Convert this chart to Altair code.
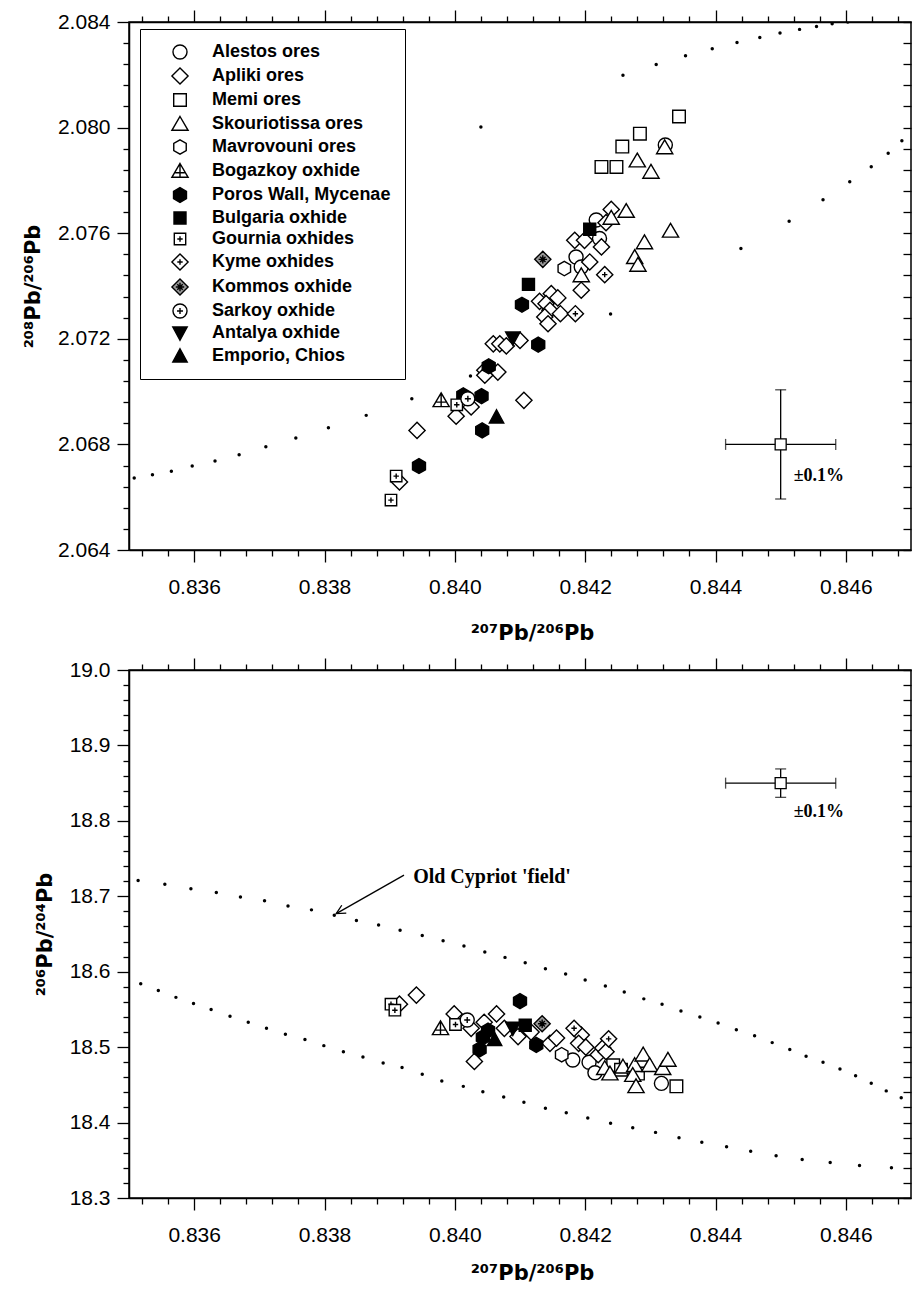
import altair as alt
import pandas as pd

GROUPS = ["Alestos ores", "Apliki ores", "Memi ores", "Skouriotissa ores", "Mavrovouni ores",
          "Bogazkoy oxhide", "Poros Wall, Mycenae", "Bulgaria oxhide", "Gournia oxhides",
          "Kyme oxhides", "Kommos oxhide", "Sarkoy oxhide", "Antalya oxhide", "Emporio, Chios"]

# ---- upper panel: (207Pb/206Pb, 208Pb/206Pb)
ALESTOS_TOP = [(0.84323, 2.07934), (0.84217, 2.07650), (0.84222, 2.07580), (0.84186, 2.07510), (0.84194, 2.07472)]
APLIKI_TOP = [(0.84240, 2.07690), (0.84232, 2.07640), (0.84184, 2.07573), (0.84199, 2.07573), (0.84225, 2.07548),
              (0.84207, 2.07491), (0.84194, 2.07384), (0.84130, 2.07342), (0.84148, 2.07371), (0.84140, 2.07333),
              (0.84158, 2.07355), (0.84146, 2.07308), (0.84162, 2.07295), (0.84138, 2.07283), (0.84143, 2.07257),
              (0.84059, 2.07181), (0.84069, 2.07181), (0.84079, 2.07173), (0.84100, 2.07194), (0.84046, 2.07081),
              (0.84066, 2.07074), (0.84046, 2.07062), (0.84002, 2.06907), (0.84025, 2.06942), (0.84106, 2.06967),
              (0.83942, 2.06853), (0.83915, 2.06658)]
MEMI_TOP = [(0.84344, 2.08042), (0.84284, 2.07977), (0.84257, 2.07928), (0.84225, 2.07851), (0.84248, 2.07851)]
SKOURIOTISSA_TOP = [(0.84322, 2.07925), (0.84280, 2.07875), (0.84301, 2.07832), (0.84263, 2.07684),
                    (0.84240, 2.07658), (0.84331, 2.07609), (0.84291, 2.07565), (0.84276, 2.07509),
                    (0.84281, 2.07480), (0.84194, 2.07440)]
MAVROVOUNI_TOP = [(0.84168, 2.07466)]
BOGAZKOY_TOP = [(0.83979, 2.06967)]
POROS_TOP = [(0.84103, 2.07329), (0.84128, 2.07178), (0.84052, 2.07096), (0.84013, 2.06986), (0.84041, 2.06983),
             (0.84042, 2.06853), (0.83945, 2.06718)]
BULGARIA_TOP = [(0.84207, 2.07615), (0.84113, 2.07406)]
GOURNIA_TOP = [(0.83902, 2.06589), (0.83910, 2.06680), (0.84003, 2.06950)]
KYME_TOP = [(0.84230, 2.07443), (0.84185, 2.07295)]
KOMMOS_TOP = [(0.84135, 2.07501)]
SARKOY_TOP = [(0.84020, 2.06973)]
ANTALYA_TOP = [(0.84089, 2.07203)]
EMPORIO_TOP = [(0.84064, 2.06904)]

# ---- lower panel: (207Pb/206Pb, 206Pb/204Pb)
ALESTOS_BOT = [(0.84181, 18.483), (0.84206, 18.480), (0.84215, 18.466), (0.84317, 18.452)]
APLIKI_BOT = [(0.83915, 18.557), (0.83941, 18.569), (0.83999, 18.544), (0.84025, 18.525), (0.84045, 18.533),
              (0.84064, 18.544), (0.84076, 18.525), (0.84030, 18.481), (0.84097, 18.514), (0.84117, 18.520),
              (0.84146, 18.505), (0.84156, 18.512), (0.84194, 18.516), (0.84190, 18.505), (0.84201, 18.500),
              (0.84220, 18.490), (0.84227, 18.499), (0.84232, 18.494)]
MEMI_BOT = [(0.84243, 18.476), (0.84255, 18.470), (0.84281, 18.465), (0.84340, 18.448)]
SKOURIOTISSA_BOT = [(0.84230, 18.472), (0.84238, 18.465), (0.84258, 18.474), (0.84276, 18.476), (0.84289, 18.490),
                    (0.84299, 18.476), (0.84273, 18.463), (0.84278, 18.448), (0.84319, 18.472), (0.84327, 18.483)]
MAVROVOUNI_BOT = [(0.84164, 18.490)]
BOGAZKOY_BOT = [(0.83978, 18.525)]
POROS_BOT = [(0.84100, 18.561), (0.84125, 18.503), (0.84051, 18.522), (0.84043, 18.513), (0.84038, 18.497)]
BULGARIA_BOT = [(0.84108, 18.529)]
GOURNIA_BOT = [(0.83902, 18.557), (0.83908, 18.549), (0.84001, 18.530)]
KYME_BOT = [(0.84183, 18.525), (0.84236, 18.511)]
KOMMOS_BOT = [(0.84134, 18.531)]
SARKOY_BOT = [(0.84019, 18.536)]
ANTALYA_BOT = [(0.84089, 18.525)]
EMPORIO_BOT = [(0.84061, 18.510)]

# ---- dotted "Old Cypriot field" boundaries
FIELD_TOP_LOWER = [(0.83508, 2.06673), (0.83536, 2.06685), (0.83565, 2.06698), (0.83597, 2.06718),
                   (0.83632, 2.06737), (0.83669, 2.06761), (0.83710, 2.06791), (0.83756, 2.06824),
                   (0.83806, 2.06863), (0.83864, 2.06910), (0.83934, 2.06973), (0.84024, 2.07059),
                   (0.84239, 2.07294), (0.84439, 2.07542), (0.84513, 2.07645), (0.84565, 2.07727),
                   (0.84606, 2.07795), (0.84639, 2.07852), (0.84665, 2.07903), (0.84686, 2.07950)]
FIELD_TOP_UPPER = [(0.84040, 2.08002), (0.84258, 2.08198), (0.84309, 2.08239), (0.84354, 2.08272),
                   (0.84395, 2.08299), (0.84433, 2.08322), (0.84468, 2.08341), (0.84499, 2.08358),
                   (0.84529, 2.08372), (0.84555, 2.08383), (0.84579, 2.08393), (0.84603, 2.08400)]
FIELD_BOT_UPPER = [(0.83514, 18.721), (0.83555, 18.716), (0.83595, 18.710), (0.83634, 18.705), (0.83671, 18.699),
                   (0.83708, 18.694), (0.83744, 18.687), (0.83780, 18.682), (0.83815, 18.675), (0.83849, 18.668),
                   (0.83883, 18.662), (0.83916, 18.655), (0.83950, 18.648), (0.83982, 18.641), (0.84014, 18.634),
                   (0.84046, 18.626), (0.84077, 18.619), (0.84108, 18.612), (0.84139, 18.604), (0.84170, 18.597),
                   (0.84200, 18.589), (0.84231, 18.581), (0.84260, 18.573), (0.84290, 18.564), (0.84318, 18.557),
                   (0.84347, 18.548), (0.84376, 18.540), (0.84404, 18.532), (0.84432, 18.523), (0.84460, 18.515),
                   (0.84487, 18.506), (0.84514, 18.497), (0.84539, 18.488), (0.84565, 18.480), (0.84591, 18.471),
                   (0.84615, 18.462), (0.84639, 18.452), (0.84662, 18.442), (0.84685, 18.433)]
FIELD_BOT_LOWER = [(0.83518, 18.584), (0.83545, 18.575), (0.83572, 18.566), (0.83599, 18.558), (0.83626, 18.550),
                   (0.83655, 18.541), (0.83683, 18.533), (0.83711, 18.525), (0.83740, 18.517), (0.83770, 18.510),
                   (0.83799, 18.502), (0.83829, 18.494), (0.83859, 18.487), (0.83890, 18.479), (0.83919, 18.473),
                   (0.83950, 18.464), (0.83980, 18.455), (0.84013, 18.448), (0.84043, 18.441), (0.84075, 18.434),
                   (0.84106, 18.427), (0.84139, 18.419), (0.84171, 18.413), (0.84204, 18.406), (0.84239, 18.399),
                   (0.84273, 18.393), (0.84308, 18.387), (0.84344, 18.380), (0.84379, 18.374), (0.84417, 18.368),
                   (0.84454, 18.362), (0.84493, 18.356), (0.84533, 18.351), (0.84576, 18.347), (0.84621, 18.343),
                   (0.84670, 18.340)]

# ---- error bars (+-0.1 %) and annotations
ERR_TOP = [(0.845, 2.068)]
ERR_BOT = [(0.845, 18.85)]
REL_ERR = 0.001
NOTE_TOP = [(0.8452, 2.0668, "\u00b10.1%")]
NOTE_BOT = [(0.8452, 18.812, "\u00b10.1%")]
LABEL_BOT = [(0.83936, 18.726, "Old Cypriot 'field'")]
ARROW_BOT = [(0.83922, 18.728, 0.83818, 18.677)]

X_TITLE = "\u00b2\u2070\u2077Pb/\u00b2\u2070\u2076Pb"
TOP_Y_TITLE = "\u00b2\u2070\u2078Pb/\u00b2\u2070\u2076Pb"
BOT_Y_TITLE = "\u00b2\u2070\u2076Pb/\u00b2\u2070\u2074Pb"

# ---- symbol shapes (custom paths)
CIRCLE = "M1.17,0A1.17,1.17,0,1,1,-1.17,0A1.17,1.17,0,1,1,1.17,0Z"
DIAMOND = "M0,-1.35L1.35,0L0,1.35L-1.35,0Z"
SQUARE = "M-1.05,-1.05L1.05,-1.05L1.05,1.05L-1.05,1.05Z"
TRI_UP = "M0,-1.25L1.35,1.05L-1.35,1.05Z"
HEX = "M0,-1.2L1.04,-0.6L1.04,0.6L0,1.2L-1.04,0.6L-1.04,-0.6Z"
BOGAZ = TRI_UP + " M0,-1.25L0,1.05 M-0.8,0.3L0.8,0.3"
HEX_F = "M0,-1.25L1.08,-0.62L1.08,0.62L0,1.25L-1.08,0.62L-1.08,-0.62Z"
SQUARE_F = "M-1.0,-1.0L1.0,-1.0L1.0,1.0L-1.0,1.0Z"
GOURNIA = "M-0.95,-0.95L0.95,-0.95L0.95,0.95L-0.95,0.95Z M0,-0.45L0,0.45 M-0.45,0L0.45,0"
KYME = DIAMOND + " M0,-0.45L0,0.45 M-0.45,0L0.45,0"
KOMMOS = DIAMOND + " M0,-0.7L0,0.7 M-0.7,0L0.7,0 M-0.45,-0.45L0.45,0.45 M-0.45,0.45L0.45,-0.45"
SARKOY = CIRCLE + " M0,-0.5L0,0.5 M-0.5,0L0.5,0"
TRI_DOWN = "M0,1.2L1.2,-1.0L-1.2,-1.0Z"
TRI_UP_F = "M0,-1.2L1.2,1.0L-1.2,1.0Z"
SHAPES = [CIRCLE, DIAMOND, SQUARE, TRI_UP, HEX, BOGAZ, HEX_F, SQUARE_F, GOURNIA, KYME, KOMMOS, SARKOY,
          TRI_DOWN, TRI_UP_F]
FILLS = ["white", "white", "white", "white", "white", "white", "black", "black", "white", "white",
         "#9a9a9a", "white", "black", "black"]
STROKES = ["black"] * len(GROUPS)

TOP_SERIES = [ALESTOS_TOP, APLIKI_TOP, MEMI_TOP, SKOURIOTISSA_TOP, MAVROVOUNI_TOP, BOGAZKOY_TOP, POROS_TOP,
              BULGARIA_TOP, GOURNIA_TOP, KYME_TOP, KOMMOS_TOP, SARKOY_TOP, ANTALYA_TOP, EMPORIO_TOP]
BOT_SERIES = [ALESTOS_BOT, APLIKI_BOT, MEMI_BOT, SKOURIOTISSA_BOT, MAVROVOUNI_BOT, BOGAZKOY_BOT, POROS_BOT,
              BULGARIA_BOT, GOURNIA_BOT, KYME_BOT, KOMMOS_BOT, SARKOY_BOT, ANTALYA_BOT, EMPORIO_BOT]

X_DOMAIN = [0.835, 0.847]
X_TICKS = [round(0.8352 + 0.0004 * i, 4) for i in range(30)]
TOP_Y_DOMAIN = [2.064, 2.084]
TOP_Y_TICKS = [round(2.064 + 0.0008 * i, 4) for i in range(26)]
BOT_Y_DOMAIN = [18.3, 19.0]
BOT_Y_TICKS = [round(18.3 + 0.02 * i, 2) for i in range(36)]
X_MAJOR = "abs(round(datum.value * 5000) % 10) < 0.5"
TOP_Y_MAJOR = "abs(round(datum.value * 1250) % 5) < 0.5"
BOT_Y_MAJOR = "abs(round(datum.value * 50) % 5) < 0.5"


def points_df(series):
    rows = []
    for g, pts in zip(GROUPS, series):
        for x, y in pts:
            rows.append({"group": g, "x": x, "y": y})
    return pd.DataFrame(rows)


def dots_df(*lines):
    return pd.DataFrame([{"x": x, "y": y} for line in lines for x, y in line])


def tick_size(test, major=12, minor=6):
    return {"condition": {"test": test, "value": major}, "value": minor}


def main_axis(orient, values, test, fmt, title, title_pad):
    kw = {}
    if orient == "bottom":
        kw = {"titleX": 403}
    return alt.Axis(orient=orient, values=values, tickSize=tick_size(test),
                    labelExpr=f"({test}) ? format(datum.value, '{fmt}') : ''",
                    labelPadding=14 if orient == "bottom" else 7, labelOverlap=False, labelFlush=False,
                    title=title, titlePadding=title_pad, grid=False, **kw)


def top_axis():
    return alt.Axis(orient="top", values=X_TICKS, tickSize=tick_size(X_MAJOR, 12, 6), labels=False,
                    title=None, grid=False, minExtent=0, maxExtent=12)


def right_axis(values):
    # ticks drawn just inside the right frame (the page edge leaves no room outside)
    return alt.Axis(orient="right", values=values, tickSize=8, offset=-8, domain=False, labels=False,
                    title=None, grid=False, minExtent=0, maxExtent=0)


LEGEND = alt.Legend(title=None, orient="none", legendX=11, legendY=7, direction="vertical",
                    padding=14, symbolOffset=17, labelOffset=23, rowPadding=3, symbolSize=144,
                    symbolStrokeWidth=1.4, labelFont="Liberation Sans",
                    labelFontSize=18, labelFontWeight="bold", labelColor="black", labelLimit=400,
                    strokeColor="black", fillColor="white", cornerRadius=0)


def panel(series, dots, err, ydom, yticks, ytest, yfmt, ytitle, legend, notes, xtitle_pad,
          label=None, arrows=None):
    xs = alt.Scale(domain=X_DOMAIN, nice=False, zero=False)
    ys = alt.Scale(domain=ydom, nice=False, zero=False)
    dots_layer = alt.Chart(dots).mark_circle(size=12, color="black", opacity=1, clip=True).encode(
        x=alt.X("x:Q", scale=xs, axis=top_axis()),
        y=alt.Y("y:Q", scale=ys, axis=right_axis(yticks)))
    pts_layer = alt.Chart(points_df(series)).mark_point(
        filled=True, opacity=1, size=144, strokeWidth=1.4).encode(
        x=alt.X("x:Q", scale=xs, axis=main_axis("bottom", X_TICKS, X_MAJOR, ".3f", X_TITLE, xtitle_pad)),
        y=alt.Y("y:Q", scale=ys, axis=main_axis("left", yticks, ytest, yfmt, ytitle, 14)),
        shape=alt.Shape("group:N", scale=alt.Scale(domain=GROUPS, range=SHAPES), legend=legend),
        fill=alt.Fill("group:N", scale=alt.Scale(domain=GROUPS, range=FILLS), legend=legend),
        stroke=alt.Stroke("group:N", scale=alt.Scale(domain=GROUPS, range=STROKES), legend=legend))
    edf = pd.DataFrame([{"x": x, "y": y} for x, y in err])
    eb = alt.Chart(edf).transform_calculate(
        xlo=f"datum.x * (1 - {REL_ERR})", xhi=f"datum.x * (1 + {REL_ERR})",
        ylo=f"datum.y * (1 - {REL_ERR})", yhi=f"datum.y * (1 + {REL_ERR})")
    hbar = eb.mark_rule(color="black", strokeWidth=1.3).encode(
        x=alt.X("xlo:Q", scale=xs, axis=None), x2="xhi:Q", y=alt.Y("y:Q", scale=ys, axis=None))
    vbar = eb.mark_rule(color="black", strokeWidth=1.3).encode(
        x=alt.X("x:Q", scale=xs, axis=None), y=alt.Y("ylo:Q", scale=ys, axis=None), y2="yhi:Q")
    cap_l = eb.mark_tick(orient="vertical", size=11, thickness=1.3, color="black").encode(
        x=alt.X("xlo:Q", scale=xs, axis=None), y=alt.Y("y:Q", scale=ys, axis=None))
    cap_r = eb.mark_tick(orient="vertical", size=11, thickness=1.3, color="black").encode(
        x=alt.X("xhi:Q", scale=xs, axis=None), y=alt.Y("y:Q", scale=ys, axis=None))
    cap_b = eb.mark_tick(orient="horizontal", size=11, thickness=1.3, color="black").encode(
        x=alt.X("x:Q", scale=xs, axis=None), y=alt.Y("ylo:Q", scale=ys, axis=None))
    cap_t = eb.mark_tick(orient="horizontal", size=11, thickness=1.3, color="black").encode(
        x=alt.X("x:Q", scale=xs, axis=None), y=alt.Y("yhi:Q", scale=ys, axis=None))
    center = eb.mark_point(shape=SQUARE, filled=True, fill="white", stroke="black", strokeWidth=1.3,
                           size=110, opacity=1).encode(
        x=alt.X("x:Q", scale=xs, axis=None), y=alt.Y("y:Q", scale=ys, axis=None))
    ndf = pd.DataFrame([{"x": x, "y": y, "t": t} for x, y, t in notes])
    text = alt.Chart(ndf).mark_text(align="left", baseline="middle", font="Liberation Serif",
                                    fontWeight="bold", fontSize=18, color="black").encode(
        x=alt.X("x:Q", scale=xs, axis=None), y=alt.Y("y:Q", scale=ys, axis=None), text="t:N")
    layers = [dots_layer, hbar, vbar, cap_l, cap_r, cap_b, cap_t, center, pts_layer, text]
    if label:
        ldf = pd.DataFrame([{"x": x, "y": y, "t": t} for x, y, t in label])
        layers.append(alt.Chart(ldf).mark_text(align="left", baseline="middle", font="Liberation Serif",
                                               fontWeight="bold", fontSize=20, color="black").encode(
            x=alt.X("x:Q", scale=xs, axis=None), y=alt.Y("y:Q", scale=ys, axis=None), text="t:N"))
    if arrows:
        adf = pd.DataFrame([{"x": a, "y": b, "x2": c, "y2": d} for a, b, c, d in arrows])
        shaft = alt.Chart(adf).mark_rule(color="black", strokeWidth=1.3).encode(
            x=alt.X("x:Q", scale=xs, axis=None), y=alt.Y("y:Q", scale=ys, axis=None), x2="x2:Q", y2="y2:Q")
        head = alt.Chart(adf).mark_point(shape="M-0.9,1.8L0,0L0.9,1.8", angle=240, filled=False,
                                         stroke="black", strokeWidth=1.3, size=100, opacity=1).encode(
            x=alt.X("x2:Q", scale=xs, axis=None), y=alt.Y("y2:Q", scale=ys, axis=None))
        layers += [shaft, head]
    return alt.layer(*layers).resolve_scale(x="shared", y="shared").resolve_axis(
        x="independent", y="independent").properties(width=782, height=528)


top = panel(TOP_SERIES, dots_df(FIELD_TOP_LOWER, FIELD_TOP_UPPER), ERR_TOP, TOP_Y_DOMAIN, TOP_Y_TICKS,
            TOP_Y_MAJOR, ".3f", TOP_Y_TITLE, LEGEND, NOTE_TOP, 25)
bottom = panel(BOT_SERIES, dots_df(FIELD_BOT_UPPER, FIELD_BOT_LOWER), ERR_BOT, BOT_Y_DOMAIN, BOT_Y_TICKS,
               BOT_Y_MAJOR, ".1f", BOT_Y_TITLE, None, NOTE_BOT, 17, LABEL_BOT, ARROW_BOT)

chart = alt.vconcat(top, bottom, spacing=12).resolve_scale(
    x="independent", y="independent", shape="independent", fill="independent",
    stroke="independent").resolve_legend(
    shape="independent", fill="independent", stroke="independent").properties(
    padding={"left": 13, "top": 0, "right": 0, "bottom": 0}, background="white").configure_view(
    stroke="black", strokeWidth=1.5).configure_axis(
    domainColor="black", domainWidth=1.5, tickColor="black", tickWidth=1.3, labelColor="black",
    titleColor="black", labelFont="Liberation Sans", labelFontSize=21, titleFont="DejaVu Sans",
    titleFontSize=21, titleFontWeight="bold")

chart.save("out.html", embed_options={"renderer": "svg", "actions": False})
